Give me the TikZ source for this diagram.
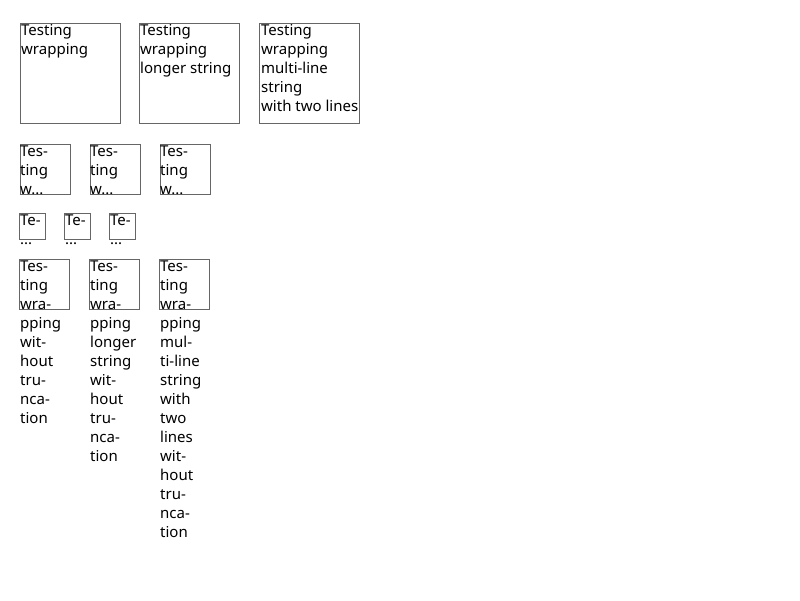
\documentclass[tikz,border=0pt]{standalone}
\usepackage{fontspec}
\setmainfont{Noto Sans}
% stacked lines whose reference point is the baseline of the first line
\newcommand\linestack[1]{\vtop{\lineskiplimit=-20pt\halign{##\hfil\cr#1\crcr}}}
\begin{document}
\begin{tikzpicture}[x=1pt,y=-1pt,
  cell/.style={draw=black!60, line width=1pt, fill=none},
  label/.style={anchor=base west, inner sep=0pt,
    font=\fontsize{15}{19}\selectfont}]
\useasboundingbox (0,0) rectangle (800,600);
% first row: 100 x 100 cells
\draw[cell] (20,23) rectangle (120,123) coordinate (b1);
\draw[cell] (139,23) rectangle (239,123) coordinate (b2);
\draw[cell] (259,23) rectangle (359,123) coordinate (b3);
\node[label] (t1) at (21,35) {\linestack{Testing\cr wrapping}};
\node[label] (t2) at (140,35) {\linestack{Testing\cr wrapping\cr longer string}};
\node[label] (t3) at (261,35) {\linestack{Testing\cr wrapping\cr multi-line\cr string\cr with two lines}};
% second row: 50 x 50 cells, truncated
\draw[cell] (20,144) rectangle (70,194) coordinate (c1);
\draw[cell] (90,144) rectangle (140,194) coordinate (c2);
\draw[cell] (160,144) rectangle (210,194) coordinate (c3);
\node[label] (u1) at (20,156) {\linestack{Tes-\cr ting\cr w...}};
\node[label] (u2) at (90,156) {\linestack{Tes-\cr ting\cr w...}};
\node[label] (u3) at (160,156) {\linestack{Tes-\cr ting\cr w...}};
% third row: small cells
\draw[cell] (19,213) rectangle (45,239) coordinate (d1);
\draw[cell] (64,213) rectangle (90,239) coordinate (d2);
\draw[cell] (109,213) rectangle (135,239) coordinate (d3);
\node[label] (v1) at (20,225) {\linestack{Te-\cr ...}};
\node[label] (v2) at (65,225) {\linestack{Te-\cr ...}};
\node[label] (v3) at (110,225) {\linestack{Te-\cr ...}};
% fourth row: text overflowing the cells
\draw[cell] (19,259) rectangle (69,309) coordinate (e1);
\draw[cell] (89,259) rectangle (139,309) coordinate (e2);
\draw[cell] (159,259) rectangle (209,309) coordinate (e3);
\node[label] (w1) at (20,271) {\linestack{Tes-\cr ting\cr wra-\cr pping\cr wit-\cr hout\cr tru-\cr nca-\cr tion}};
\node[label] (w2) at (90,271) {\linestack{Tes-\cr ting\cr wra-\cr pping\cr longer\cr string\cr wit-\cr hout\cr tru-\cr nca-\cr tion}};
\node[label] (w3) at (160,271) {\linestack{Tes-\cr ting\cr wra-\cr pping\cr mul-\cr ti-line\cr string\cr with\cr two\cr lines\cr wit-\cr hout\cr tru-\cr nca-\cr tion}};
\end{tikzpicture}
\end{document}
